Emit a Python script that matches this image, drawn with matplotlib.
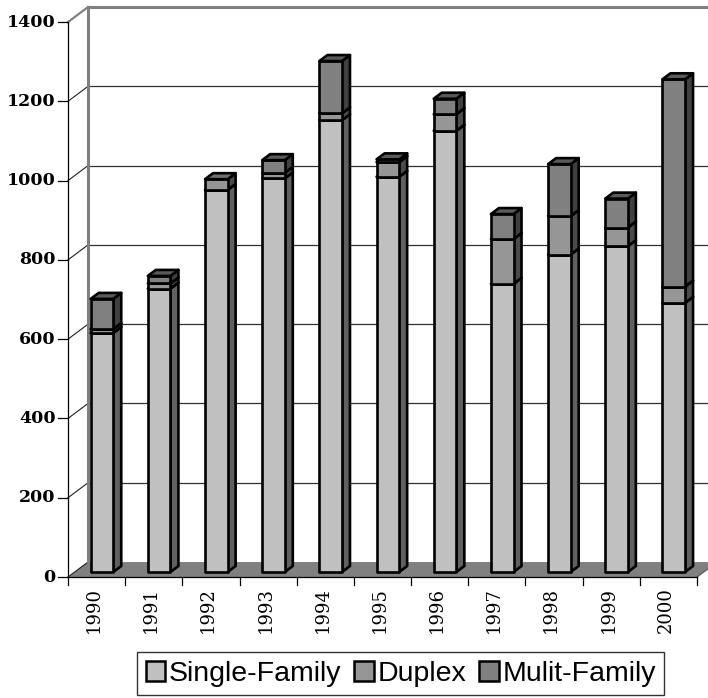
import matplotlib
matplotlib.use('Agg')
import matplotlib.pyplot as plt
from matplotlib.patches import Polygon, Patch
import numpy as np

years = ['1990', '1991', '1992', '1993', '1994', '1995',
         '1996', '1997', '1998', '1999', '2000']
single_family = [603, 715, 964, 993, 1140, 997, 1113, 727, 801, 822, 679]
duplex = [10, 13, 27, 14, 17, 37, 42, 113, 97, 47, 41]
multi_family = [76, 19, 0, 32, 132, 7, 39, 63, 131, 73, 523]
series_names = ['Single-Family', 'Duplex', 'Mulit-Family']
y_ticks = [0, 200, 400, 600, 800, 1000, 1200, 1400]

# front, side and top shades for each series
front_colors = ['#c0c0c0', '#969696', '#808080']
side_colors = ['#606060', '#4b4b4b', '#404040']
top_colors = ['#a0a0a0', '#707070', '#5a5a5a']

# oblique depth offset (one full unit of depth) in data units
DX = 0.35
DV = 37.8
BAR_D0, BAR_D1 = 0.333, 0.733
BAR_X0, BAR_W = 0.28, 0.395
EDGE_LW = 1.9


def proj(x, v, d):
    return (x + d * DX, v + d * DV)


fig = plt.figure(figsize=(7.08, 6.98), dpi=100)
ax = fig.add_axes([0, 0, 1, 1])
ax.set_xlim(-1.189, 11.193)
ax.set_ylim(-305.2, 1455.6)
ax.axis('off')

n = len(years)
top_v = y_ticks[-1]

# floor
floor = Polygon([proj(0, 0, 0), proj(n, 0, 0), proj(n, 0, 1), proj(0, 0, 1)],
                closed=True, facecolor='#808080', edgecolor='none', zorder=1)
ax.add_patch(floor)
ax.plot(*zip(proj(n, 0, 0), proj(n, 0, 1)), color='#606060', lw=1, zorder=1)

# back wall gridlines and left wall diagonals
for v in y_ticks[1:-1]:
    ax.plot(*zip(proj(0, v, 1), proj(n + 1, v, 1)), color='#303030', lw=0.9, zorder=1)
for v in y_ticks[:-1]:
    ax.plot(*zip(proj(0, v, 0), proj(0, v, 1)), color='#202020', lw=0.8, zorder=1)

# wall borders
ax.plot(*zip(proj(0, 0, 1), proj(0, top_v, 1), proj(n + 1, top_v, 1)),
        color='#808080', lw=2.2, zorder=1)
ax.plot(*zip(proj(0, top_v, 0), proj(0, top_v, 1)), color='#808080', lw=1.6, zorder=1)

# value axis
ax.plot([0, 0], [0, top_v], color='black', lw=0.9, zorder=2)
for v in y_ticks:
    ax.plot([-0.175, 0], [v, v], color='black', lw=0.9, zorder=2)
    ax.text(-0.22, v, str(v), ha='right', va='center', fontsize=12.5,
            family='DejaVu Serif', fontweight='bold', color='black')

# category axis
ax.plot([0, n], [0, 0], color='black', lw=0.9, zorder=2)
for k in range(n + 1):
    ax.plot([k, k], [0, -20], color='black', lw=0.9, zorder=2)
for i, year in enumerate(years):
    ax.text(i + 0.45, -26, year, rotation=90, ha='center', va='top',
            fontsize=13, family='DejaVu Serif', color='black')

# stacked 3d bars
data = np.array([single_family, duplex, multi_family])
for i in range(n):
    x0 = i + BAR_X0
    x1 = x0 + BAR_W
    base = 0
    for s in range(3):
        h = data[s, i]
        if h <= 0:
            continue
        v0, v1 = base, base + h
        side = Polygon([proj(x1, v0, BAR_D0), proj(x1, v0, BAR_D1),
                        proj(x1, v1, BAR_D1), proj(x1, v1, BAR_D0)],
                       closed=True, facecolor=side_colors[s], edgecolor='black',
                       lw=EDGE_LW, joinstyle='round', zorder=3)
        front = Polygon([proj(x0, v0, BAR_D0), proj(x1, v0, BAR_D0),
                         proj(x1, v1, BAR_D0), proj(x0, v1, BAR_D0)],
                        closed=True, facecolor=front_colors[s], edgecolor='black',
                        lw=EDGE_LW, joinstyle='round', zorder=3)
        top = Polygon([proj(x0, v1, BAR_D0), proj(x1, v1, BAR_D0),
                       proj(x1, v1, BAR_D1), proj(x0, v1, BAR_D1)],
                      closed=True, facecolor=top_colors[s], edgecolor='black',
                      lw=EDGE_LW, joinstyle='round', zorder=3)
        for p in (side, front, top):
            ax.add_patch(p)
        base = v1

handles = [Patch(facecolor=c, edgecolor='black', lw=1.8) for c in front_colors]
leg = fig.legend(handles, series_names, loc='center', bbox_to_anchor=(0.566, 0.035),
                 ncol=3, frameon=True, fancybox=False, edgecolor='black',
                 prop={'family': 'Liberation Sans', 'size': 20.5},
                 handlelength=0.7, handleheight=0.7, handletextpad=0.12,
                 columnspacing=0.45, borderpad=0.3, borderaxespad=0)
leg.get_frame().set_linewidth(1.0)

fig.savefig('out.png', dpi=100)
